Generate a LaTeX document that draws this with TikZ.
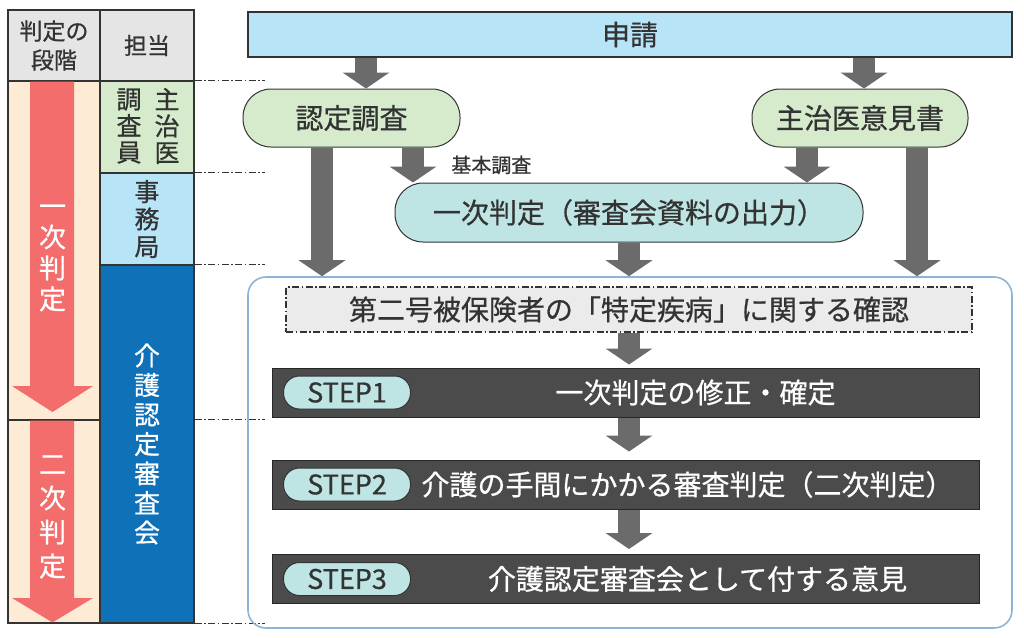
\documentclass[tikz,border=0pt]{standalone}
\usepackage{fontspec}
\setmainfont{Noto Sans CJK JP}[FakeBold=0.7]
\usetikzlibrary{arrows.meta}
\definecolor{hdgray}{HTML}{E5E5E5}
\definecolor{beige}{HTML}{FDEBD5}
\definecolor{stagered}{HTML}{F26D6C}
\definecolor{chosagreen}{HTML}{D5EBCB}
\definecolor{jimublue}{HTML}{B8E4F8}
\definecolor{shinsablue}{HTML}{0F71B8}
\definecolor{pillteal}{HTML}{BEE5E4}
\definecolor{arrowgray}{HTML}{6B6B6B}
\definecolor{stepgray}{HTML}{4B4B4B}
\definecolor{frameblue}{HTML}{8DB3D6}
\definecolor{inkgray}{HTML}{333333}

\begin{document}
\begin{tikzpicture}[x=1pt,y=-1pt,font=\fontsize{28}{32}\selectfont,
    cell/.style={draw=inkgray, line width=1.2pt, inner sep=0pt, text=inkgray, align=center},
    pill/.style={draw=inkgray, line width=1pt, rounded corners=28pt, inner sep=0pt, text=inkgray},
    blk/.style={arrowgray, line width=22pt, -{Triangle[width=47pt,length=16pt,line width=0pt]}},
    leader/.style={inkgray, line width=1.2pt, dash pattern=on 7pt off 2.5pt on 1.5pt off 2.5pt},
    stepbar/.style={draw=black!85, fill=stepgray, line width=1pt, minimum width=707pt, minimum height=49pt},
    steptag/.style={draw=inkgray, fill=pillteal, line width=1pt, rounded corners=16pt, minimum width=127pt,
                    minimum height=33pt, inner sep=0pt, text=inkgray, font=\fontsize{27}{28}\selectfont},
    steptext/.style={text=white}]

  \useasboundingbox (0,0) rectangle (1024,637);

  % left table
  \node[cell, fill=hdgray, minimum width=92pt, minimum height=71pt, font=\fontsize{23}{29}\selectfont]
        (hstage) at (54,45.5) {判定の\\段階};
  \node[cell, fill=hdgray, minimum width=94pt, minimum height=71pt, font=\fontsize{23}{29}\selectfont]
        (htanto) at (147,45.5) {担当};
  \node[cell, fill=beige, minimum width=92pt, minimum height=339pt] (stage1) at (54,250.5) {};
  \node[cell, fill=beige, minimum width=92pt, minimum height=203pt] (stage2) at (54,521.5) {};

  \fill[stagered] (30,81.6) -- (74,81.6) -- (74,386) -- (93,386) -- (52.5,412)
        -- (12,386) -- (30,386) -- cycle;
  \fill[stagered] (30,420.6) -- (74,420.6) -- (74,598) -- (93,598) -- (52.5,622.4)
        -- (12,598) -- (30,598) -- cycle;
  \node[text=white, align=center, font=\fontsize{27}{31}\selectfont] (ichijilbl) at (52.5,258)
        {一\\次\\判\\定};
  \node[text=white, align=center, font=\fontsize{27}{34}\selectfont] (nijilbl) at (52.5,517)
        {二\\次\\判\\定};

  \node[cell, fill=chosagreen, minimum width=94pt, minimum height=92pt] (tchosa) at (147,127) {};
  \node[text=inkgray, align=center, font=\fontsize{25}{26.5}\selectfont] (chosain) at (129,126)
        {調\\査\\員};
  \node[text=inkgray, align=center, font=\fontsize{25}{26.5}\selectfont] (shujii) at (167,126)
        {主\\治\\医};
  \node[cell, fill=jimublue, minimum width=94pt, minimum height=92pt, font=\fontsize{25}{27.5}\selectfont]
        (tjimu) at (147,219) {事\\務\\局};
  \node[cell, fill=shinsablue, minimum width=94pt, minimum height=358pt, text=white,
        font=\fontsize{26}{29.5}\selectfont] (tshinsa) at (147,444) {介\\護\\認\\定\\審\\査\\会};

  \foreach \a in {tchosa.north east, tjimu.north east, tshinsa.north east,
                  stage2.north -| tshinsa.east, tshinsa.south east}
    \draw[leader] (\a) -- ++(70,0);

  % flow
  \node[cell, fill=jimublue, line width=1.4pt, minimum width=764pt, minimum height=45pt]
        (shinsei) at (630,34.5) {申請};
  \node[pill, fill=chosagreen, minimum width=217pt, minimum height=58pt] (chosa) at (351.5,118) {認定調査};
  \node[pill, fill=chosagreen, minimum width=216pt, minimum height=58pt] (iken) at (860,118) {主治医意見書};
  \node[pill, fill=pillteal, minimum width=468pt, minimum height=59pt] (ichiji) at (629,212.5)
        {一次判定（審査会資料の出力）};

  \node[draw=frameblue, line width=1.6pt, rounded corners=18pt, minimum width=764pt,
        minimum height=351pt] (shinsakai) at (630,452.5) {};
  \node[draw=inkgray, fill=black!8, line width=1.2pt, dash pattern=on 7pt off 2.5pt on 1.5pt off 2.5pt,
        minimum width=686pt, minimum height=45pt, text=inkgray] (kakunin) at (629,309.5)
        {第二号被保険者の「特定疾病」に関する確認};

  \foreach \i/\y/\dx/\txt in {1/392.5/70/一次判定の修正・確定,
                              2/484.5/62/介護の手間にかかる審査判定（二次判定）,
                              3/579/72/介護認定審査会として付する意見}{
    \node[stepbar] (step\i) at (625.5,\y) {};
    \node[steptag] (tag\i) at ([xshift=75.5pt]step\i.west) {STEP\i};
    \node[steptext] (txt\i) at ([xshift=\dx pt]step\i.center) {\txt};
  }

  \coordinate (xa) at (322,0);
  \coordinate (xb) at (413,0);
  \coordinate (xc) at (807,0);
  \coordinate (xd) at (917,0);
  \coordinate (xe) at (366,0);
  \coordinate (xf) at (864,0);

  \draw[blk] (shinsei.south -| xe) -- (chosa.north -| xe);
  \draw[blk] (shinsei.south -| xf) -- (iken.north -| xf);
  \draw[blk] (chosa.south -| xa) -- (shinsakai.north -| xa);
  \draw[blk] (chosa.south -| xb) -- node[right=24pt, font=\fontsize{20}{24}\selectfont, text=inkgray]
        (kihon) {基本調査} (ichiji.north -| xb);
  \draw[blk] (iken.south -| xc) -- (ichiji.north -| xc);
  \draw[blk] (iken.south -| xd) -- (shinsakai.north -| xd);
  \draw[blk] (ichiji.south) -- (ichiji.south |- shinsakai.north);
  \draw[blk, shorten >=3pt] (kakunin.south) -- (kakunin.south |- step1.north);
  \draw[blk, shorten >=8pt] (kakunin.south |- step1.south) -- (kakunin.south |- step2.north);
  \draw[blk, shorten >=5pt] (kakunin.south |- step2.south) -- (kakunin.south |- step3.north);
\end{tikzpicture}
\end{document}
